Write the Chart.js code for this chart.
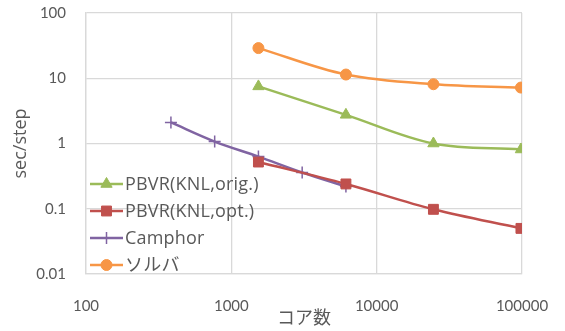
<!DOCTYPE html>
<html>
<head>
<meta charset="utf-8">
<script src="https://cdn.jsdelivr.net/npm/chart.js@4/dist/chart.umd.min.js"></script>
<style>
  html, body { margin: 0; padding: 0; background: #fff; }
  #wrap { width: 565px; height: 331px; }
</style>
</head>
<body>
<div id="wrap"><canvas id="c" width="565" height="331"></canvas></div>
<script>
// Core counts (x) for each series
const knlCores = [1536, 6144, 24576, 98304];
const camphorCores = [384, 768, 1536, 3072, 6144];

// sec/step values
const pbvrOrig = [7.5, 2.75, 1.0, 0.81];
const pbvrOpt = [0.52, 0.24, 0.098, 0.05];
const camphor = [2.1, 1.07, 0.63, 0.36, 0.22];
const solver = [29, 11.4, 8.1, 7.2];

const seriesNames = ['PBVR(KNL,orig.)', 'PBVR(KNL,opt.)', 'Camphor', 'ソルバ'];
const xTicks = [100, 1000, 10000, 100000];
const yTicks = [0.01, 0.1, 1, 10, 100];

const TICK_FONT = 'Lato, "Noto Sans CJK JP", sans-serif';
const FONT = '"Open Sans", "Noto Sans CJK JP", sans-serif';
const TEXT = '#595959';
const GRID = '#d9d9d9';

function pts(xs, ys) { return xs.map((x, i) => ({ x: x, y: ys[i] })); }

const styles = [
  { color: '#9BBB59', point: 'triangle', r: 6.5 },
  { color: '#C0504D', point: 'rect', r: 7 },
  { color: '#8064A2', point: 'cross', r: 6 },
  { color: '#F79646', point: 'circle', r: 5.5 }
];
const values = [pts(knlCores, pbvrOrig), pts(knlCores, pbvrOpt), pts(camphorCores, camphor), pts(knlCores, solver)];

const datasets = values.map((d, i) => ({
  label: seriesNames[i],
  data: d,
  borderColor: styles[i].color,
  backgroundColor: styles[i].color,
  pointStyle: styles[i].point,
  pointRadius: styles[i].r,
  pointBorderWidth: i === 2 ? 1.5 : 1,
  borderWidth: 2.5,
  tension: 0.35,
  showLine: true,
  fill: false
}));

// Legend drawn inside the plot area, bottom left
const insideLegend = {
  id: 'insideLegend',
  afterDatasetsDraw(chart) {
    const ctx = chart.ctx;
    const x0 = 90, x1 = 123, tx = 125;
    const rows = [184, 211, 238, 265];
    ctx.save();
    ctx.font = '18px ' + FONT;
    ctx.letterSpacing = '0.2px';
    ctx.textBaseline = 'middle';
    datasets.forEach((ds, i) => {
      const y = rows[i];
      ctx.strokeStyle = ds.borderColor;
      ctx.lineWidth = 2.5;
      ctx.beginPath(); ctx.moveTo(x0, y); ctx.lineTo(x1, y); ctx.stroke();
      ctx.fillStyle = ds.borderColor;
      ctx.lineWidth = ds.pointBorderWidth;
      Chart.helpers.drawPoint(ctx, {
        pointStyle: ds.pointStyle, radius: ds.pointRadius, borderWidth: ds.pointBorderWidth, rotation: 0
      }, (x0 + x1) / 2, y);
      ctx.fillStyle = TEXT;
      ctx.fillText(ds.label, tx, y + 1);
    });
    ctx.restore();
  }
};

// Keep the plot frame fixed regardless of tick label overflow
function noPad(s) { s.paddingTop = 0; s.paddingBottom = 0; s.paddingLeft = 0; s.paddingRight = 0; }

new Chart(document.getElementById('c'), {
  type: 'scatter',
  data: { datasets: datasets },
  plugins: [insideLegend],
  options: {
    responsive: false,
    animation: false,
    layout: { padding: { left: 10, right: 43, top: 13, bottom: 1 } },
    plugins: { legend: { display: false }, tooltip: { enabled: false } },
    scales: {
      x: {
        type: 'logarithmic',
        min: 100, max: 100000,
        afterBuildTicks(s) { s.ticks = xTicks.map(v => ({ value: v })); },
        afterFit(s) { s.height = 56; noPad(s); },
        grid: { color: GRID, lineWidth: 1.3, drawTicks: false },
        border: { color: GRID, width: 1.3 },
        ticks: {
          color: TEXT, font: { family: TICK_FONT, size: 15 }, padding: 23, maxRotation: 0,
          callback: v => String(v)
        },
        title: { display: true, text: 'コア数', color: TEXT, font: { family: FONT, size: 18 }, padding: { top: 0, bottom: 0 } }
      },
      y: {
        type: 'logarithmic',
        min: 0.01, max: 100,
        afterBuildTicks(s) { s.ticks = yTicks.map(v => ({ value: v })); },
        afterFit(s) { s.width = 76; noPad(s); },
        grid: { color: GRID, lineWidth: 1.3, drawTicks: false },
        border: { color: GRID, width: 1.3 },
        ticks: {
          color: TEXT, font: { family: TICK_FONT, size: 15 }, padding: 20,
          callback: v => String(v)
        },
        title: { display: true, text: 'sec/step', color: TEXT, font: { family: FONT, size: 18 }, padding: { top: 0, bottom: 2 } }
      }
    }
  }
});
</script>
</body>
</html>
